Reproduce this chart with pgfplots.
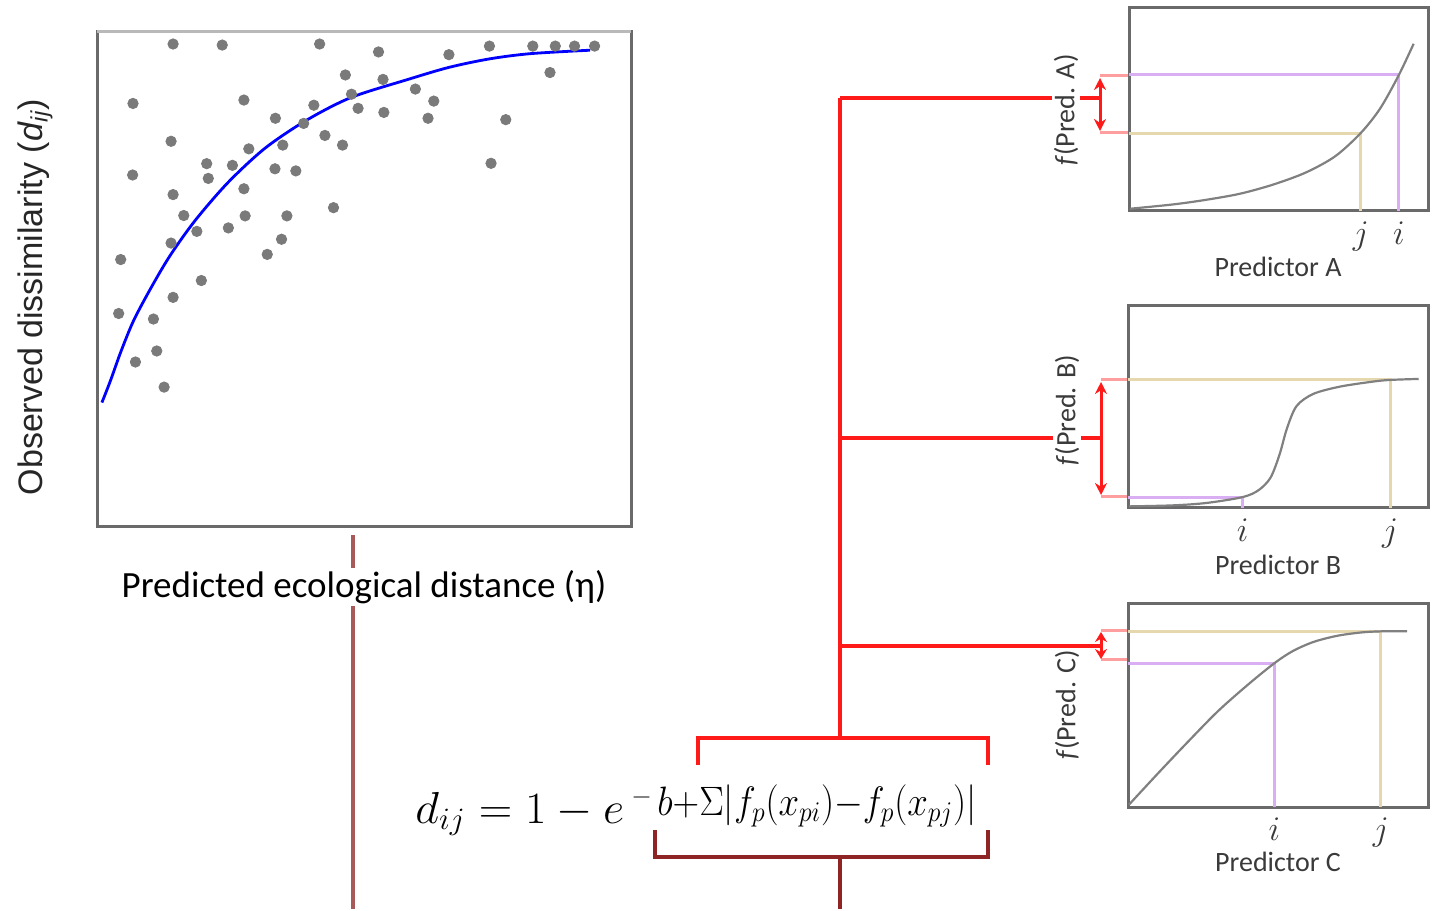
\documentclass[border=0pt]{standalone}
\usepackage{pgfplots}
\pgfplotsset{compat=1.18}
\usepackage{fontspec}
\setmainfont{Carlito}
\newfontfamily\arialf{Liberation Sans}
\usetikzlibrary{arrows.meta}
\definecolor{ptgray}{HTML}{7A7A7A}
\definecolor{framegray}{HTML}{6A6A6A}
\definecolor{curvegray}{HTML}{808080}
\definecolor{lpurple}{HTML}{D9AEF2}
\definecolor{ltan}{HTML}{E6D8AE}
\definecolor{rred}{HTML}{FF1A1A}
\definecolor{pinkred}{HTML}{FF9E9E}
\definecolor{dred}{HTML}{8E2424}
\definecolor{mred}{HTML}{A85A5A}
\definecolor{txtgray}{HTML}{3A3A3A}
\pgfplotsset{
  smallax/.style={anchor=south west, scale only axis, xmin=0, xmax=1, ymin=0, ymax=1,
    ytick=\empty, xtick style={draw=none}, clip=false,
    axis line style={framegray, line width=1.5pt},
    xticklabel style={font=\fontsize{17.28}{18}\selectfont, text=txtgray, yshift=-2pt}},
}
\begin{document}
\begin{tikzpicture}[x=0.5pt,y=0.5pt]
\path (0,0) rectangle (1440,909);

% ---------- connector lines (drawn first) ----------
\draw[mred, line width=1.6pt] (353,374) -- (353,0);
\draw[rred, line width=1.6pt] (840,811) -- (840,171);
\draw[rred, line width=1.6pt] (840,811) -- (1100,811);
\draw[rred, line width=1.6pt] (840,471) -- (1101,471);
\draw[rred, line width=1.6pt] (840,263) -- (1101,263);
\draw[rred, line width=1.8pt] (698,144) -- (698,171) -- (988,171) -- (988,144);
\draw[dred, line width=1.8pt] (655,79) -- (655,52) -- (988,52) -- (988,79);
\draw[dred, line width=1.6pt] (840,52) -- (840,0);

% stubs and arrows
\draw[pinkred, line width=1.5pt] (1100,833) -- (1130,833);
\draw[pinkred, line width=1.5pt] (1100,776) -- (1130,776);
\draw[rred, line width=1.5pt, {Stealth[length=6pt,width=6pt]}-{Stealth[length=6pt,width=6pt]}] (1100,831) -- (1100,778);
\draw[pinkred, line width=1.5pt] (1101,529) -- (1129,529);
\draw[pinkred, line width=1.5pt] (1101,412) -- (1129,412);
\draw[rred, line width=1.5pt, {Stealth[length=6pt,width=6pt]}-{Stealth[length=6pt,width=6pt]}] (1101,527) -- (1101,414);
\draw[pinkred, line width=1.5pt] (1101,278) -- (1129,278);
\draw[pinkred, line width=1.5pt] (1101,249) -- (1129,249);
\draw[rred, line width=1.5pt, {Stealth[length=5pt,width=6pt]}-{Stealth[length=5pt,width=6pt]}] (1101,277) -- (1101,250);

% ---------- main scatter ----------
\begin{axis}[at={(48.5pt,191pt)}, anchor=south west, width=267pt, height=247.5pt, scale only axis,
  xmin=0, xmax=1, ymin=0, ymax=1, xtick=\empty, ytick=\empty, clip=false,
  axis line style={framegray, line width=1.5pt}]
\addplot[only marks, mark=*, mark size=2.6pt, mark options={draw=ptgray, fill=ptgray}] coordinates {
(0.1425,0.9757) (0.2345,0.9736) (0.4169,0.9757) (0.5272,0.9597) (0.659,0.9542)
(0.7349,0.9715) (0.8161,0.9715) (0.8582,0.9715) (0.8943,0.9715) (0.9318,0.9715)
(0.4651,0.9132) (0.5356,0.9042) (0.8483,0.9181) (0.5962,0.8847) (0.4766,0.8743)
(0.6307,0.8604) (0.0674,0.8556) (0.2751,0.8625) (0.4061,0.8521) (0.4889,0.8458)
(0.5372,0.8375) (0.3341,0.8257) (0.6199,0.8257) (0.7655,0.8229) (0.387,0.8153)
(0.1387,0.7792) (0.4268,0.791) (0.4598,0.7715) (0.2843,0.7639) (0.3479,0.7715)
(0.2054,0.734) (0.2536,0.7306) (0.7379,0.7347) (0.0667,0.7111) (0.2084,0.7042)
(0.3333,0.7236) (0.3724,0.7194) (0.2751,0.6833) (0.1425,0.6715) (0.4429,0.6451)
(0.1625,0.6292) (0.2774,0.6285) (0.3556,0.6285) (0.246,0.6042) (0.187,0.5972)
(0.3456,0.5813) (0.1387,0.5736) (0.3188,0.5507) (0.0444,0.5403) (0.1954,0.4979)
(0.1425,0.4639) (0.0406,0.4313) (0.1057,0.4201) (0.1119,0.3556) (0.072,0.3333)
(0.1257,0.2826)
};
\addplot[blue, line width=1.4pt, smooth] coordinates {
(0.0092,0.2514) (0.025,0.295) (0.045,0.355) (0.069,0.418) (0.1034,0.4875) (0.1379,0.55)
(0.1839,0.6194) (0.2452,0.6958) (0.3142,0.7648) (0.3908,0.8208) (0.4751,0.8674)
(0.5824,0.9042) (0.659,0.9285) (0.7356,0.9458) (0.8123,0.9563) (0.9234,0.9632)
};
\end{axis}
% lighter top border as in the reference
\draw[gray!55, line width=1.5pt] (97,877) -- (631,877);

% ---------- Predictor A ----------
\begin{axis}[smallax, at={(564.5pt,349pt)}, width=149.5pt, height=101.5pt,
  xtick={0.775,0.9025}, xticklabels={$j$,$i$}]
\addplot[ltan, line width=1.5pt] coordinates {(0,0.384) (0.775,0.384) (0.775,0)};
\addplot[lpurple, line width=1.5pt] coordinates {(0,0.67) (0.9025,0.67) (0.9025,0)};
\addplot[curvegray, line width=1.1pt, smooth] coordinates {
(0.003,0.011) (0.1495,0.0327) (0.26,0.0556) (0.371,0.085) (0.482,0.13) (0.592,0.19)
(0.69,0.27) (0.775,0.384) (0.84,0.505) (0.9025,0.67) (0.952,0.824)};
\end{axis}

% ---------- Predictor B ----------
\begin{axis}[smallax, at={(564pt,200.5pt)}, width=150pt, height=101pt,
  xtick={0.382,0.874}, xticklabels={$i$,$j$}]
\addplot[ltan, line width=1.5pt] coordinates {(0,0.634) (0.874,0.634) (0.874,0)};
\addplot[lpurple, line width=1.5pt] coordinates {(0,0.054) (0.382,0.054) (0.382,0)};
\addplot[curvegray, line width=1.1pt, smooth] coordinates {
(0.003,0.008) (0.15,0.013) (0.262,0.025) (0.382,0.054) (0.435,0.088) (0.475,0.15)
(0.505,0.264) (0.53,0.395) (0.562,0.505) (0.618,0.565) (0.707,0.601) (0.818,0.626)
(0.874,0.634) (0.969,0.639)};
\end{axis}

% ---------- Predictor C ----------
\begin{axis}[smallax, at={(564pt,51pt)}, width=150pt, height=102pt,
  xtick={0.488,0.843}, xticklabels={$i$,$j$}]
\addplot[ltan, line width=1.5pt] coordinates {(0,0.861) (0.843,0.861) (0.843,0)};
\addplot[lpurple, line width=1.5pt] coordinates {(0,0.705) (0.488,0.705) (0.488,0)};
\addplot[curvegray, line width=1.1pt, smooth] coordinates {
(0.003,0.011) (0.1,0.165) (0.2,0.32) (0.3,0.47) (0.4,0.6) (0.488,0.705)
(0.55,0.765) (0.62,0.81) (0.7,0.84) (0.78,0.856) (0.843,0.861) (0.93,0.862)};
\end{axis}

% ---------- texts ----------
\node[rotate=90, text=black!85] at (35,612) {\arialf\fontsize{17}{20}\selectfont Observed dissimilarity (\textit{d}\textsubscript{\textit{ij}})};
\node[fill=white, inner sep=1pt] at (364,322) {\fontsize{18.5}{22}\selectfont Predicted ecological distance (η)};

\node[rotate=90, fill=white, inner sep=1pt, text=txtgray] at (1066,799) {\fontsize{14}{16}\selectfont\textit{f}(Pred. A)};
\node[rotate=90, fill=white, inner sep=1pt, text=txtgray] at (1067,499) {\fontsize{14}{16}\selectfont\textit{f}(Pred. B)};
\node[rotate=90, fill=white, inner sep=1pt, text=txtgray] at (1067,204) {\fontsize{14}{16}\selectfont\textit{f}(Pred. C)};

\node[text=txtgray] at (1278,642) {\fontsize{14}{16}\selectfont Predictor A};
\node[text=txtgray] at (1278,344) {\fontsize{14}{16}\selectfont Predictor B};
\node[text=txtgray] at (1278,47) {\fontsize{14}{16}\selectfont Predictor C};

% ---------- equation ----------
\node[anchor=base west, inner sep=0, xscale=1.12, yscale=1.08] at (415,86) {\fontsize{20.74}{24}\selectfont $d_{ij} = 1 - e$};
\node[anchor=base west, inner sep=0, xscale=1.1] at (631,105) {\fontsize{12}{14}\selectfont $-$};
\node[anchor=base west, inner sep=0, xscale=0.89, yscale=0.99] at (657,94) {\fontsize{20.74}{24}\selectfont $b{+}\Sigma\bigl|f_p(x_{pi}){-}f_p(x_{pj})\bigr|$};
\end{tikzpicture}
\end{document}
